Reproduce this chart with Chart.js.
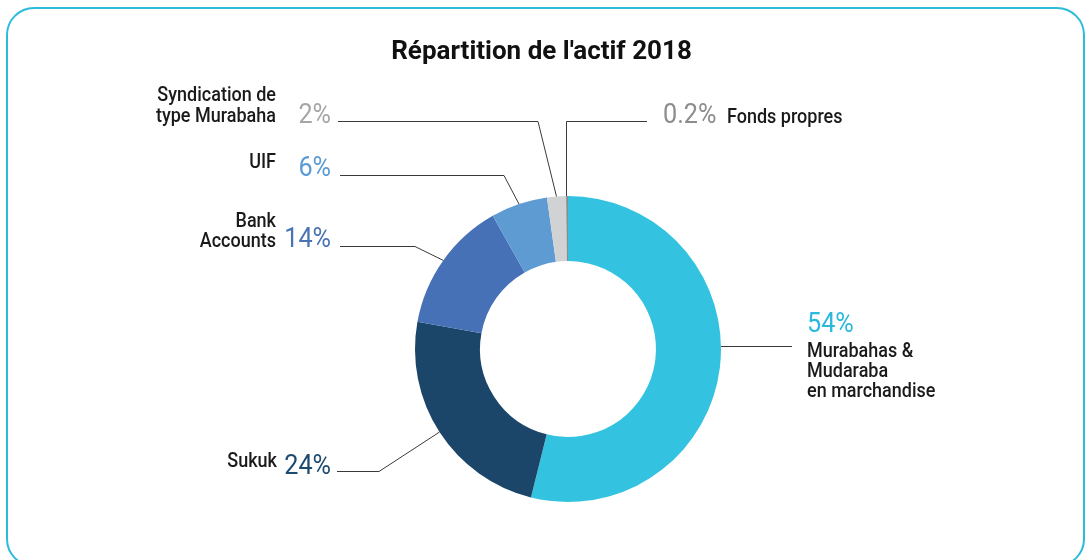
<!DOCTYPE html>
<html lang="fr">
<head>
<meta charset="utf-8">
<title>Répartition de l'actif 2018</title>
<script src="https://cdn.jsdelivr.net/npm/chart.js@4.4.1/dist/chart.umd.min.js"></script>
<style>
    html, body { margin: 0; padding: 0; background: #ffffff; }
    .cadre {
        position: absolute;
        left: 6px; top: 7px;
        width: 1075px; height: 556px;
        border: 2px solid #2dbbdc;
        border-radius: 28px;
    }
    .zone-grafico { position: absolute; left: 0; top: 0; width: 1087px; height: 560px; }
</style>
</head>
<body>
<div class="cadre"></div>
<div class="zone-grafico"><canvas class="grafico-actif"></canvas></div>
<script>
const titulo = "Répartition de l'actif 2018";
const categorias = ['Murabahas & Mudaraba en marchandise', 'Sukuk', 'Bank Accounts', 'UIF', 'Syndication de type Murabaha', 'Fonds propres'];
const linhasRotulo = [
    ['Murabahas &', 'Mudaraba', 'en marchandise'],
    ['Sukuk'],
    ['Bank', 'Accounts'],
    ['UIF'],
    ['Syndication de', 'type Murabaha'],
    ['Fonds propres']
];
const valores = [54, 24, 14, 6, 2, 0.2];
const coresFatia = ['#33c3e0', '#1b466a', '#4671b7', '#5e9bd3', '#d1d2d4', '#8a8c8e'];
const coresPercentual = ['#2ab9dd', '#1d4a70', '#4a73b5', '#5b9bd5', '#a6a6a6', '#8c8c8c'];

// onde cada rótulo fica e como a linha de chamada chega na fatia
const posRotulos = [
    { lado: 'dir', xTexto: 807, yPct: 332, yNomes: [357, 377, 397], yLinha: 346, xFim: 792, reta: true },
    { lado: 'esq', xPct: 331, yPct: 474, xNome: 277, yNomes: [467], yLinha: 471, xIni: 337, xCotovelo: 379 },
    { lado: 'esq', xPct: 331, yPct: 247, xNome: 276, yNomes: [227, 247], yLinha: 246, xIni: 340, xCotovelo: 415 },
    { lado: 'esq', xPct: 331, yPct: 176, xNome: 276, yNomes: [168], yLinha: 175, xIni: 340, xCotovelo: 504 },
    { lado: 'esq', xPct: 331, yPct: 123, xNome: 276, yNomes: [101, 122], yLinha: 121, xIni: 338, xCotovelo: 538 },
    { lado: 'topo', xPct: 663, yPct: 123, xNome: 727, yNomes: [123], yLinha: 121, xIni: 647 }
];

const ESTREITO = 0.9;

function textoEstreito(ctx, texto, x, y, alinhamento) {
    ctx.save();
    ctx.translate(x, y);
    ctx.scale(ESTREITO, 1);
    ctx.textAlign = alinhamento;
    ctx.textBaseline = 'alphabetic';
    ctx.fillText(texto, 0, 0);
    ctx.restore();
}

const rotulosPlugin = {
    id: 'rotulosActif',
    afterDraw(chart) {
        const ctx = chart.ctx;

        // título
        ctx.save();
        ctx.font = 'bold 26px Roboto';
        ctx.fillStyle = '#111111';
        ctx.textAlign = 'center';
        ctx.textBaseline = 'alphabetic';
        ctx.fillText(titulo, 541.5, 59);
        ctx.restore();

        const meta = chart.getDatasetMeta(0);
        meta.data.forEach((arco, i) => {
            const p = posRotulos[i];
            const { x, y, startAngle, endAngle, outerRadius } = arco.getProps(['x', 'y', 'startAngle', 'endAngle', 'outerRadius'], true);
            const meio = (startAngle + endAngle) / 2;
            const px = x + Math.cos(meio) * outerRadius;
            const py = y + Math.sin(meio) * outerRadius;

            // linha de chamada
            ctx.save();
            ctx.strokeStyle = '#3a3a3a';
            ctx.lineWidth = 1;
            ctx.beginPath();
            if (p.reta) {
                const dy = p.yLinha - y;
                const xCirc = x + Math.sqrt(outerRadius * outerRadius - dy * dy);
                ctx.moveTo(xCirc, p.yLinha + 0.5);
                ctx.lineTo(p.xFim, p.yLinha + 0.5);
            } else if (p.lado === 'topo') {
                ctx.moveTo(p.xIni, p.yLinha + 0.5);
                ctx.lineTo(Math.round(px) - 0.5, p.yLinha + 0.5);
                ctx.lineTo(Math.round(px) - 0.5, py);
            } else {
                ctx.moveTo(p.xIni, p.yLinha + 0.5);
                ctx.lineTo(p.xCotovelo, p.yLinha + 0.5);
                ctx.lineTo(px, py);
            }
            ctx.stroke();
            ctx.restore();

            // percentual e nome
            const pct = valores[i] + '%';
            ctx.save();
            ctx.font = '400 28px Roboto';
            ctx.fillStyle = coresPercentual[i];
            if (p.lado === 'esq') {
                textoEstreito(ctx, pct, p.xPct, p.yPct, 'right');
            } else {
                textoEstreito(ctx, pct, p.lado === 'dir' ? p.xTexto : p.xPct, p.yPct, 'left');
            }
            ctx.font = '500 20px Roboto';
            ctx.fillStyle = '#1a1a1a';
            linhasRotulo[i].forEach((linha, j) => {
                if (p.lado === 'esq') {
                    textoEstreito(ctx, linha, p.xNome, p.yNomes[j], 'right');
                } else {
                    textoEstreito(ctx, linha, p.lado === 'dir' ? p.xTexto : p.xNome, p.yNomes[j], 'left');
                }
            });
            ctx.restore();
        });
    }
};

const ctx = document.querySelector('.grafico-actif').getContext('2d');
const graficoActif = new Chart(ctx, {
    type: 'doughnut',
    data: {
        labels: categorias,
        datasets: [{
            data: valores,
            backgroundColor: coresFatia,
            borderWidth: 0,
            hoverOffset: 0
        }]
    },
    options: {
        responsive: true,
        maintainAspectRatio: false,
        animation: false,
        cutout: '57.5%',
        layout: {
            padding: { top: 196, bottom: 58, left: 200, right: 151 }
        },
        plugins: {
            legend: { display: false },
            tooltip: { enabled: false },
            title: { display: false }
        }
    },
    plugins: [rotulosPlugin]
});
</script>
</body>
</html>
